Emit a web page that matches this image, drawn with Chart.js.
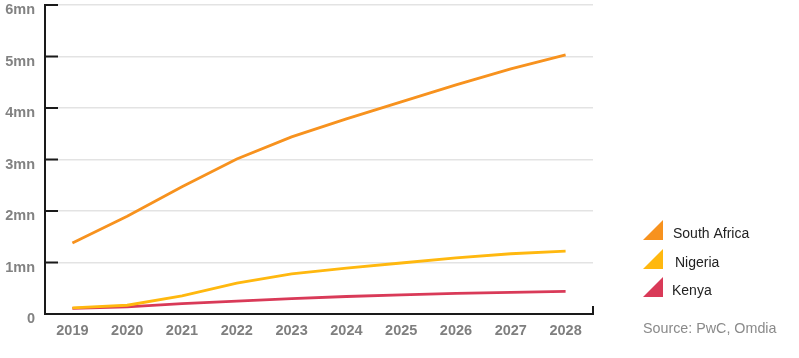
<!DOCTYPE html>
<html>
<head>
<meta charset="utf-8">
<script src="https://cdn.jsdelivr.net/npm/chart.js@4"></script>
<style>
  html, body { margin: 0; padding: 0; background: #fff; }
  #wrap { width: 799px; height: 358px; position: relative; }
</style>
</head>
<body>
<div id="wrap"><canvas id="chart"></canvas></div>
<script>
const years = ['2019', '2020', '2021', '2022', '2023', '2024', '2025', '2026', '2027', '2028']
const southAfrica = [1.38, 1.9, 2.47, 3.01, 3.44, 3.79, 4.12, 4.45, 4.76, 5.03]
const nigeria = [0.12, 0.17, 0.35, 0.6, 0.78, 0.89, 0.99, 1.09, 1.17, 1.22]
const kenya = [0.11, 0.14, 0.2, 0.25, 0.3, 0.34, 0.37, 0.4, 0.42, 0.44]
const seriesNames = ['South Africa', 'Nigeria', 'Kenya']
const seriesColors = ['#f7921e', '#ffb80f', '#d93a58']
const sourceText = 'Source: PwC, Omdia'

const font = '"Liberation Sans", Arial, Helvetica, sans-serif'

// black tick marks inside the plot, right end tick, legend and source note
const extras = {
  id: 'extras',
  afterDraw (chart) {
    const { ctx, chartArea, scales } = chart
    ctx.save()
    ctx.strokeStyle = '#1a1a1a'
    ctx.lineWidth = 2
    scales.y.ticks.forEach((t) => {
      const y = scales.y.getPixelForValue(t.value)
      if (t.value === 0) return
      ctx.beginPath()
      ctx.moveTo(chartArea.left, y)
      ctx.lineTo(chartArea.left + 13, y)
      ctx.stroke()
    })
    ctx.beginPath()
    ctx.moveTo(chartArea.right, chartArea.bottom + 1)
    ctx.lineTo(chartArea.right, chartArea.bottom - 8)
    ctx.stroke()

    const legendTop = [220, 249, 277]
    const textX = [673, 675, 672]
    seriesNames.forEach((name, i) => {
      const top = legendTop[i]
      ctx.fillStyle = seriesColors[i]
      ctx.beginPath()
      ctx.moveTo(643, top + 20)
      ctx.lineTo(663, top)
      ctx.lineTo(663, top + 20)
      ctx.closePath()
      ctx.fill()
      ctx.fillStyle = '#222'
      ctx.font = '14px ' + font
      ctx.textBaseline = 'middle'
      ctx.textAlign = 'left'
      ctx.fillText(name, textX[i], top + 14)
    })
    ctx.fillStyle = '#8a8a8a'
    ctx.font = '14.3px ' + font
    ctx.fillText(sourceText, 643, 329)
    ctx.restore()
  }
}

const datasets = [southAfrica, nigeria, kenya].map((data, i) => ({
  label: seriesNames[i],
  data,
  borderColor: seriesColors[i],
  backgroundColor: seriesColors[i],
  borderWidth: 2.8,
  pointRadius: 0,
  tension: 0,
  fill: false,
  order: i === 2 ? 2 : 1
}))

new Chart(document.getElementById('chart'), {
  type: 'line',
  data: { labels: years, datasets },
  options: {
    responsive: true,
    maintainAspectRatio: false,
    animation: false,
    layout: { padding: { top: 5, right: 206, bottom: 0, left: 0 } },
    plugins: { legend: { display: false }, tooltip: { enabled: false } },
    scales: {
      x: {
        offset: true,
        grid: { display: false, drawTicks: false },
        border: { color: '#1a1a1a', width: 2 },
        ticks: {
          padding: 8,
          color: '#7f7f7f',
          font: { family: font, size: 14.5, weight: 'bold' },
          maxRotation: 0
        },
        afterFit (scale) {
          scale.height = 44
          scale.paddingLeft = 0
          scale.paddingRight = 0
        }
      },
      y: {
        min: 0,
        max: 6,
        grid: { color: '#e3e3e3', lineWidth: 1.5, drawTicks: false },
        border: { color: '#1a1a1a', width: 2 },
        ticks: {
          stepSize: 1,
          padding: 10,
          labelOffset: 5,
          color: '#828282',
          font: { family: font, size: 14.5, weight: 'bold' },
          callback: (v) => (v === 0 ? '0' : v + 'mn')
        },
        afterFit (scale) {
          scale.width = 45
          scale.paddingTop = 0
          scale.paddingBottom = 0
        }
      }
    }
  },
  plugins: [extras]
})
</script>
</body>
</html>
